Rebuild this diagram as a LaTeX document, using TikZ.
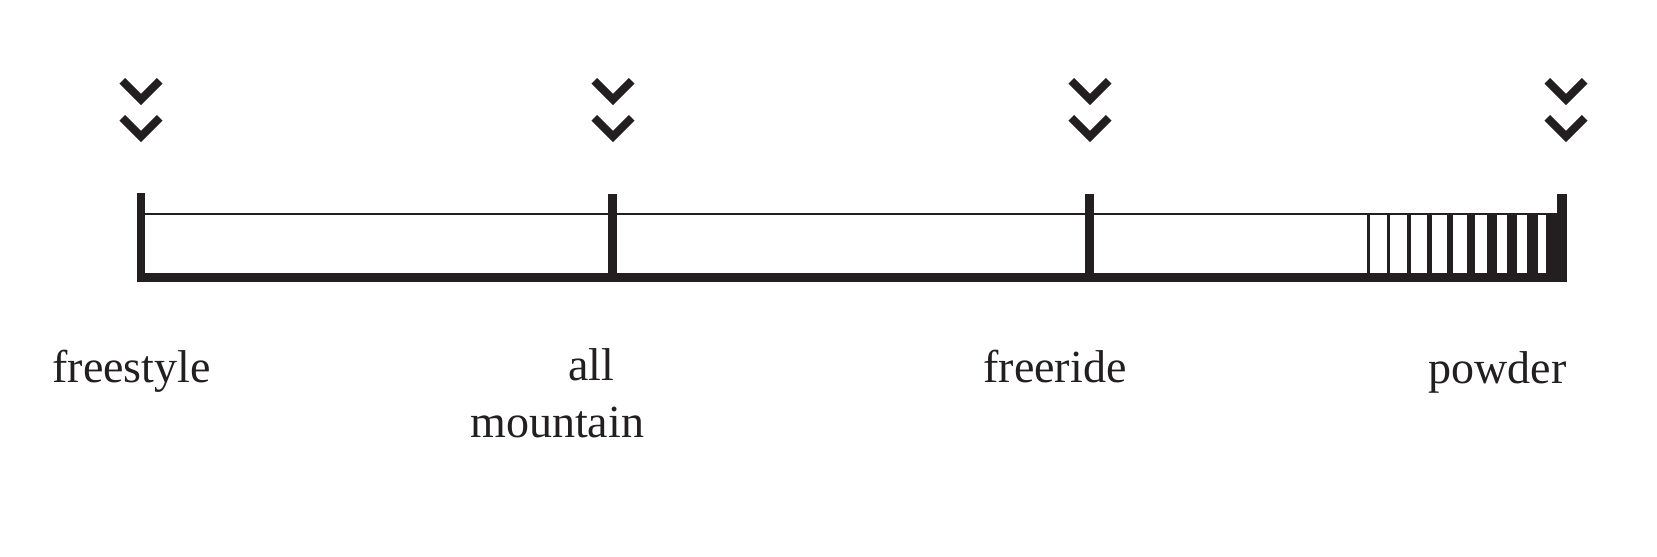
\documentclass[tikz,border=0pt]{standalone}
\usepackage{fontspec}
\setmainfont{Liberation Serif}
\definecolor{ink}{HTML}{231F20}
\begin{document}
\begin{tikzpicture}[x=0.5pt,y=-0.5pt,
  chev/.style={draw=ink,line width=4pt,line join=miter,line cap=butt},
  bar/.style={fill=ink},
  lbl/.style={text=ink,inner sep=0pt,anchor=base west,font=\fontsize{23}{28.5}\selectfont}]
\useasboundingbox[fill=white] (0,0) rectangle (1657,556);
% chevrons
\foreach \c in {141,613,1090,1566}{
  \foreach \dy in {0,37}{
    \draw[chev] (\c-18.7,80.8+\dy) -- (\c,99.5+\dy) -- (\c+18.7,80.8+\dy);
  }
}
% frame
\fill[bar] (137,273) rectangle (1567,282);
\fill[bar] (137,193) rectangle (145,282);
\fill[bar] (608,194) rectangle (617,282);
\fill[bar] (1085,194) rectangle (1094,282);
\fill[bar] (1557,194) rectangle (1567,282);
\fill[bar] (137,212.5) rectangle (1557,215.2);
% stripes
\foreach \l/\r in {1367/1369.5,1387/1390,1407/1411,1427/1432,1447/1453,1467/1475,1486.5/1496.5,1507/1517,1527/1538,1546/1567}{
  \fill[bar] (\l,213) rectangle (\r,274);
}
% labels
\node[lbl] (freestyle) at (52,382) {freestyle};
\node[lbl] (all) at (568,380) {all};
\node[lbl] (mountain) at (470,437) {mountain};
\node[lbl] (freeride) at (983,382) {freeride};
\node[lbl] (powder) at (1428,383) {powder};
\end{tikzpicture}
\end{document}
